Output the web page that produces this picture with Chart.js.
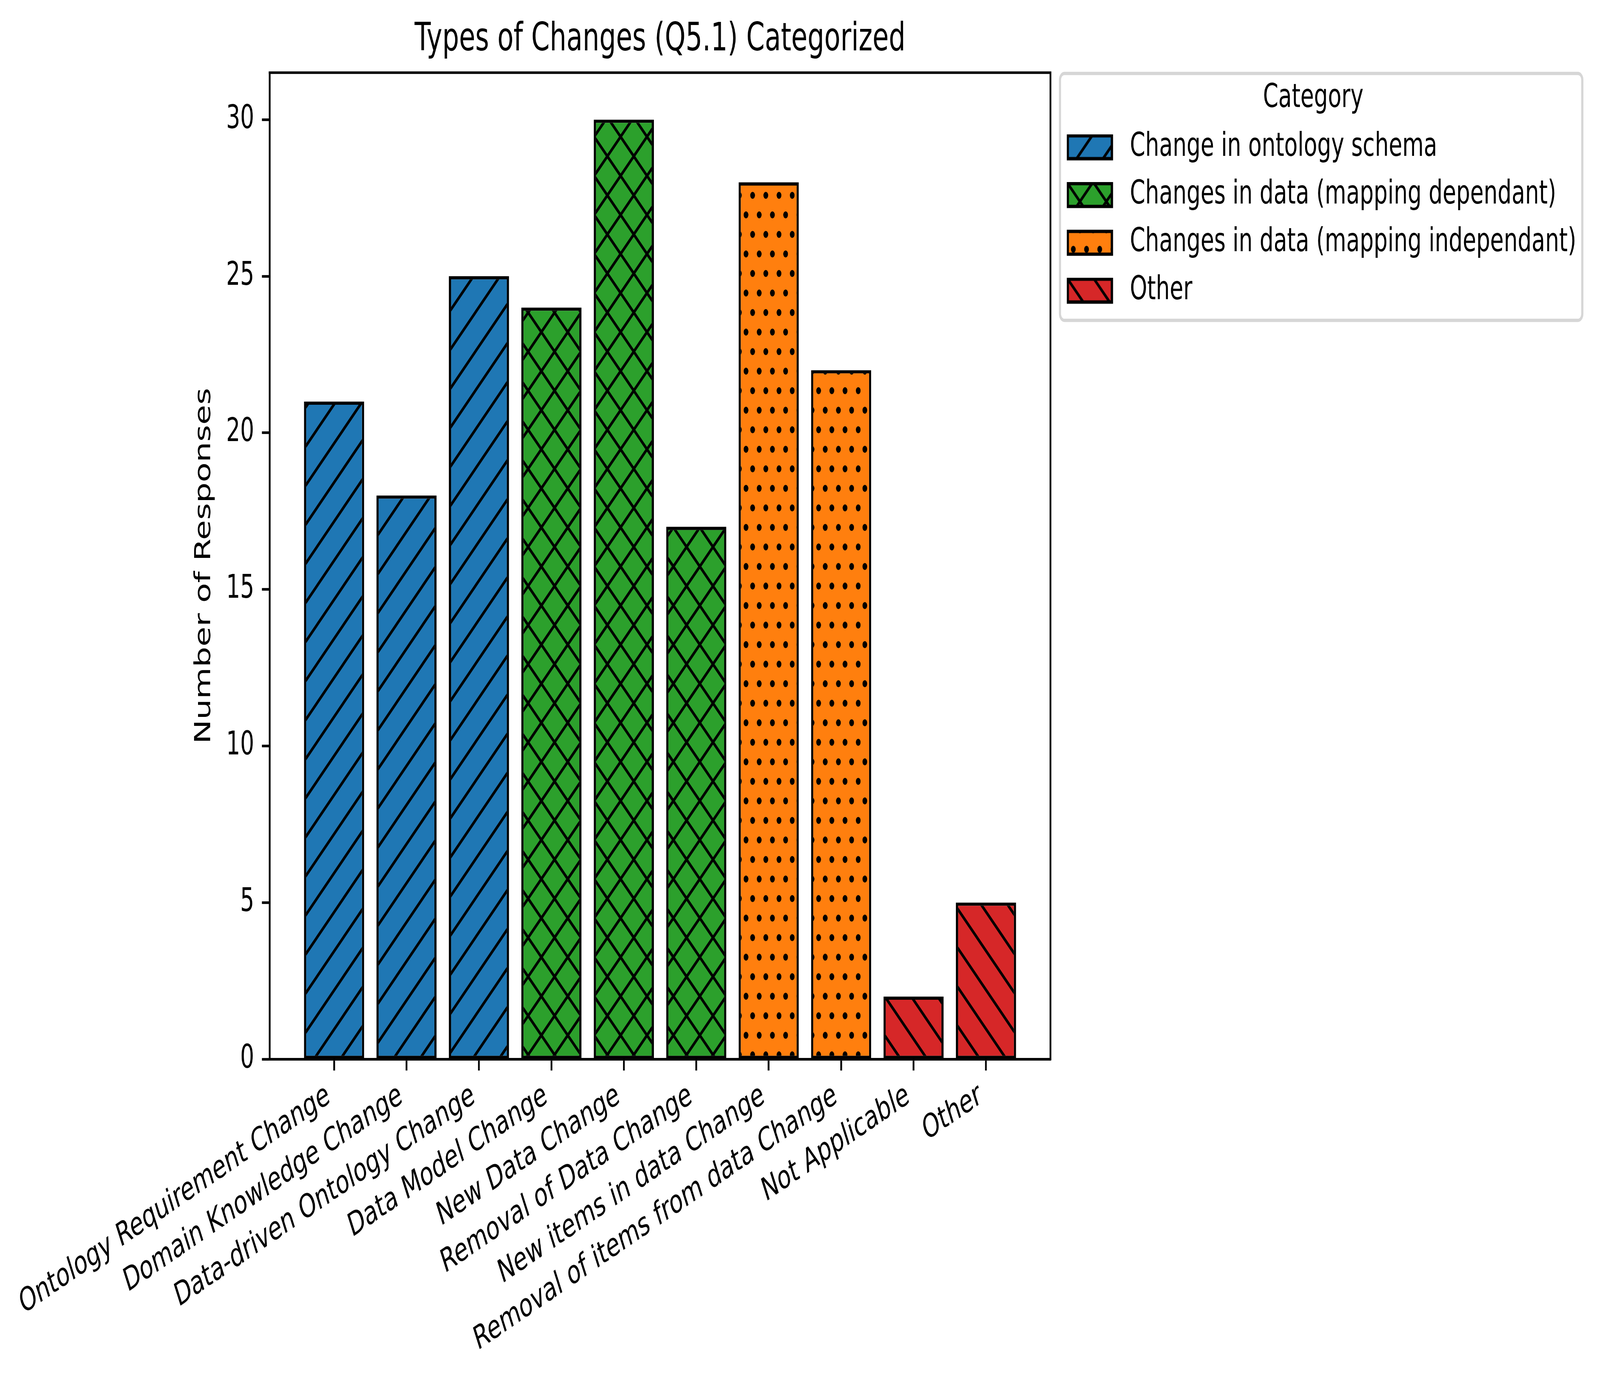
<!DOCTYPE html>
<html>
<head>
<meta charset="utf-8">
<script src="https://cdn.jsdelivr.net/npm/chart.js@4.4.0/dist/chart.umd.min.js"></script>
<style>
html, body { margin: 0; padding: 0; background: #fff; overflow: hidden; }
#wrap { width: 6059px; height: 3540px; transform-origin: 0 0; }
</style>
</head>
<body>
<div id="wrap"><canvas id="chart"></canvas></div>
<script>
// data
const categories = [
    'Ontology Requirement Change',
    'Domain Knowledge Change',
    'Data-driven Ontology Change',
    'Data Model Change',
    'New Data Change',
    'Removal of Data Change',
    'New items in data Change',
    'Removal of items from data Change',
    'Not Applicable',
    'Other'
];
const responses = [21, 18, 25, 24, 30, 17, 28, 22, 2, 5];
const categoryGroups = [
    'Change in ontology schema',
    'Changes in data (mapping dependant)',
    'Changes in data (mapping independant)',
    'Other'
];
const barGroup = [0, 0, 0, 1, 1, 1, 2, 2, 3, 3];
const yTicks = [0, 5, 10, 15, 20, 25, 30];

// styles
const groupColors = ['#1f77b4', '#2ca02c', '#ff7f0e', '#d62728'];
const groupHatches = ['/', 'x', '..', '\\'];

const W = 6059, H = 3540;
const PT = 600 / 72;      // pixels per point
const FS = 10 * PT;       // base font size

// the page is laid out in figure pixels, then fitted to the window
const wrap = document.getElementById('wrap');
wrap.style.transform = 'scale(' + (window.innerWidth / W) + ',' + (window.innerHeight / H) + ')';

Chart.defaults.font.family = "'DejaVu Sans', sans-serif";
Chart.defaults.color = '#000';

const canvas = document.getElementById('chart');
const ctx = canvas.getContext('2d');

function hatchTile(hatch, color) {
    const dots = hatch === '..';
    const c = document.createElement('canvas');
    c.width = dots ? 50 : 100;
    c.height = 100;
    const g = c.getContext('2d');
    g.fillStyle = color;
    g.fillRect(0, 0, c.width, c.height);
    g.strokeStyle = '#000';
    g.fillStyle = '#000';
    g.lineWidth = PT;
    if (dots) {
        [[0, 0], [50, 0], [0, 100], [50, 100], [25, 50]].forEach(([x, y]) => {
            g.beginPath();
            g.arc(x, y, 9, 0, Math.PI * 2);
            g.fill();
        });
    } else {
        g.beginPath();
        if (hatch === '/' || hatch === 'x') {
            for (const k of [0, 100, 200]) { g.moveTo(k + 20, -20); g.lineTo(k - 120, 120); }
        }
        if (hatch === '\\' || hatch === 'x') {
            for (const k of [-100, 0, 100]) { g.moveTo(k - 20, -20); g.lineTo(k + 120, 120); }
        }
        g.stroke();
    }
    return c;
}

const groupPatterns = groupColors.map((col, i) => ctx.createPattern(hatchTile(groupHatches[i], col), 'repeat'));

function legendSwatch(i) {
    const w = 2 * FS, h = 0.7 * FS, lw = PT;
    const c = document.createElement('canvas');
    c.width = Math.round(w + lw);
    c.height = Math.round(h + lw);
    const g = c.getContext('2d');
    g.fillStyle = g.createPattern(hatchTile(groupHatches[i], groupColors[i]), 'repeat');
    g.fillRect(lw / 2, lw / 2, w, h);
    g.strokeStyle = '#000';
    g.lineWidth = lw;
    g.strokeRect(lw / 2, lw / 2, w, h);
    return c;
}
const swatches = categoryGroups.map((_, i) => legendSwatch(i));

const framePlugin = {
    id: 'frame',
    beforeDraw(chart) {
        const lg = chart.legend;
        const c = chart.ctx;
        c.save();
        c.beginPath();
        c.roundRect(lg.left + 36, lg.top + 188, 1978, 632, 0.2 * FS);
        c.fillStyle = 'rgba(255,255,255,0.8)';
        c.fill();
        c.strokeStyle = 'rgba(204,204,204,0.8)';
        c.lineWidth = PT;
        c.stroke();
        c.restore();
    },
    afterDraw(chart) {
        const a = chart.chartArea;
        const c = chart.ctx;
        c.save();
        c.strokeStyle = '#000';
        c.lineWidth = 0.8 * PT;
        c.lineCap = 'square';
        c.beginPath();
        c.moveTo(a.left, a.top);
        c.lineTo(a.right, a.top);
        c.lineTo(a.right, a.bottom);
        c.stroke();
        c.restore();
    }
};

const tickGrid = {
    display: true,
    offset: false,
    drawOnChartArea: false,
    drawTicks: true,
    tickLength: 3.5 * PT,
    tickWidth: 0.8 * PT,
    tickColor: '#000'
};
const axisBorder = { display: true, color: '#000', width: 0.8 * PT, z: 1 };

const xMargin = 0.4 + 0.05 * (categories.length - 1 + 0.8);

new Chart(ctx, {
    type: 'bar',
    data: {
        datasets: [{
            data: responses.map((v, i) => ({ x: i, y: v })),
            backgroundColor: barGroup.map(g => groupPatterns[g]),
            borderColor: '#000',
            borderWidth: PT,
            borderSkipped: false,
            barPercentage: 0.83,
            categoryPercentage: 1.0
        }]
    },
    options: {
        responsive: true,
        maintainAspectRatio: false,
        devicePixelRatio: 1,
        animation: false,
        events: [],
        layout: { padding: { left: 720, right: 91, top: 0, bottom: 0 } },
        scales: {
            x: {
                type: 'linear',
                min: -xMargin,
                max: categories.length - 1 + xMargin,
                offset: false,
                afterBuildTicks: axis => { axis.ticks = categories.map((_, i) => ({ value: i })); },
                afterFit: axis => { axis.height = 829; },
                grid: tickGrid,
                border: axisBorder,
                ticks: {
                    autoSkip: false,
                    minRotation: 25,
                    maxRotation: 25,
                    padding: 15,
                    labelOffset: -20,
                    font: { size: FS },
                    color: '#000',
                    callback: v => categories[v]
                }
            },
            y: {
                min: 0,
                max: 31.5,
                afterBuildTicks: axis => { axis.ticks = yTicks.map(v => ({ value: v })); },
                afterFit: axis => { axis.width = 297; },
                grid: tickGrid,
                border: axisBorder,
                ticks: { padding: 3.5 * PT, font: { size: FS }, color: '#000' },
                title: {
                    display: true,
                    text: 'Number of Responses',
                    font: { size: FS },
                    color: '#000',
                    padding: { top: 0, bottom: 0 }
                }
            }
        },
        plugins: {
            title: {
                display: true,
                text: 'Types of Changes (Q5.1) Categorized',
                fullSize: false,
                font: { size: 12 * PT, weight: 'normal' },
                color: '#000',
                padding: { top: 43, bottom: 23 }
            },
            legend: {
                position: 'right',
                align: 'start',
                maxWidth: 1990,
                onClick: () => {},
                title: {
                    display: true,
                    text: 'Category',
                    font: { size: FS, lineHeight: 1 },
                    color: '#000',
                    padding: { top: 211, bottom: 2 }
                },
                labels: {
                    usePointStyle: true,
                    pointStyleWidth: 220,
                    padding: 39,
                    font: { size: FS },
                    color: '#000',
                    generateLabels: () => categoryGroups.map((name, i) => ({
                        text: name,
                        pointStyle: swatches[i],
                        fillStyle: groupColors[i],
                        strokeStyle: '#000',
                        lineWidth: 0,
                        hidden: false,
                        datasetIndex: 0,
                        fontColor: '#000'
                    }))
                }
            },
            tooltip: { enabled: false }
        }
    },
    plugins: [framePlugin]
});
</script>
</body>
</html>
